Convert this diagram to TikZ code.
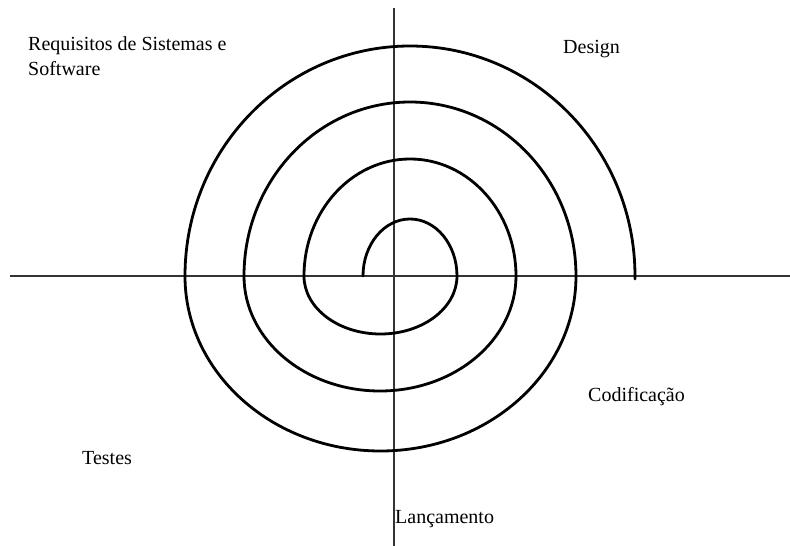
\documentclass[tikz,border=0pt]{standalone}
\usepackage{fontspec}
\setmainfont{Liberation Serif}
\usepackage{tikz}
\usetikzlibrary{positioning}

\begin{document}
\begin{tikzpicture}[x=1pt,y=1pt,
  axis/.style={draw=black!80,line width=1.3pt},
  spiral/.style={draw=black,line width=2.8pt,line cap=round},
  lbl/.style={inner sep=0pt,font=\fontsize{20}{25}\selectfont,align=left}]
\useasboundingbox (-394,-270) rectangle (396,276);
% axes
\coordinate (left) at (-384,0);
\coordinate (right) at (396,0);
\coordinate (top) at (0,268);
\coordinate (bottom) at (0,-270);
\draw[axis] (left) -- (right);
\draw[axis] (top) -- (bottom);
% spiral
\coordinate (start) at (-31,0);
\draw[spiral] (start)
  arc[start angle=180,end angle=0,x radius=47,y radius=57]
  arc[start angle=0,end angle=-180,x radius=76.5,y radius=58]
  arc[start angle=180,end angle=0,x radius=106,y radius=117]
  arc[start angle=0,end angle=-180,x radius=136,y radius=115]
  arc[start angle=180,end angle=0,x radius=166,y radius=174]
  arc[start angle=0,end angle=-180,x radius=195.5,y radius=175]
  arc[start angle=180,end angle=0,x radius=225,y radius=230] -- ++(0,-3);
% labels
\node[lbl,anchor=north west] (req) at (-366,240) {Requisitos de Sistemas e\\Software};
\node[lbl,anchor=base west] (design) at (169,222) {Design};
\node[lbl,anchor=base west] (codif) at (194,-125) {Codificação};
\node[lbl,anchor=base west] (testes) at (-312,-188) {Testes};
\node[lbl,anchor=base west] (lanc) at (1,-247) {Lançamento};
\end{tikzpicture}
\end{document}
